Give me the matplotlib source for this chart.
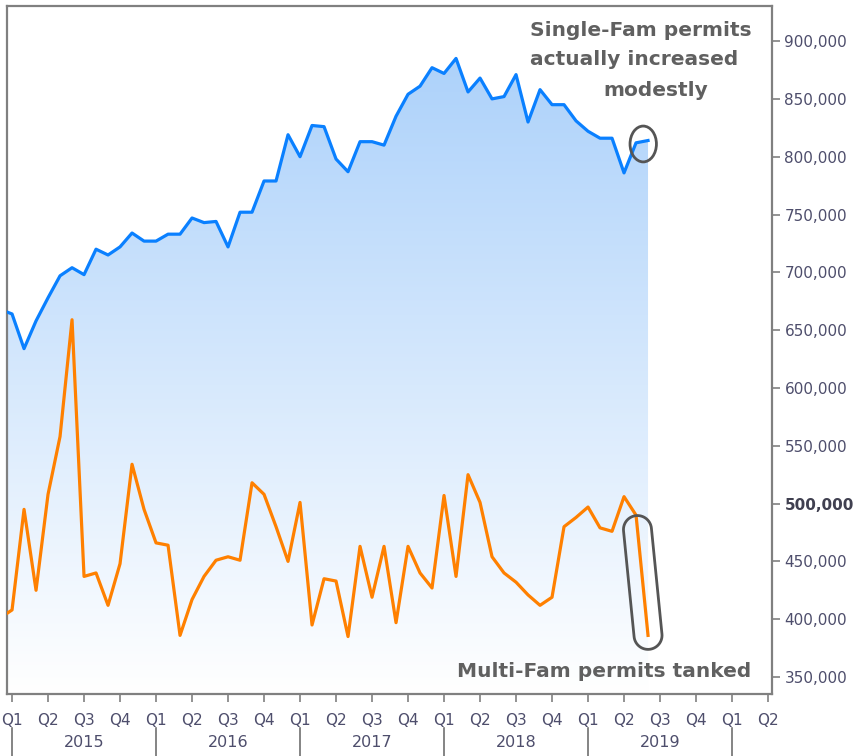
import numpy as np
import matplotlib.pyplot as plt
from matplotlib.patches import Ellipse, Polygon
from matplotlib.colors import LinearSegmentedColormap
import matplotlib.transforms as mtransforms

plt.rcParams.update({'font.family': 'DejaVu Sans', 'font.size': 11})

# monthly data, Dec 2014 .. Jun 2019 (month index: Jan 2015 = 0)
months = np.arange(-1, 54)
single_fam = [668, 664, 634, 658, 678, 697, 704, 698, 720, 715, 722, 734, 727,
              727, 733, 733, 747, 743, 744, 722, 752, 752, 779, 779, 819,
              800, 827, 826, 798, 787, 813, 813, 810, 835, 854, 861, 877,
              872, 885, 856, 868, 850, 852, 871, 830, 858, 845, 845, 831,
              822, 816, 816, 786, 812, 814]
multi_fam = [401, 408, 495, 425, 508, 558, 659, 437, 440, 412, 448, 534, 495,
             466, 464, 386, 417, 437, 451, 454, 451, 518, 508, 480, 450,
             501, 395, 435, 433, 385, 463, 419, 463, 397, 463, 440, 427,
             507, 437, 525, 501, 454, 440, 432, 421, 412, 419, 480, 488,
             497, 479, 476, 506, 490, 386]
single_fam = np.array(single_fam) * 1000
multi_fam = np.array(multi_fam) * 1000

quarter_labels = ['Q1', 'Q2', 'Q3', 'Q4'] * 5 + ['Q1', 'Q2']
years = ['2015', '2016', '2017', '2018', '2019']
yticks = np.arange(350000, 900001, 50000)

blue = '#0a80ff'
orange = '#ff8000'
note_color = '#606060'
tick_color = '#4e4e6c'

fig = plt.figure(figsize=(8.64, 7.56), dpi=100)
ax = fig.add_axes([0.0081, 0.082, 0.8854, 0.910])

xmin, xmax = -0.42, 63.33
ymin, ymax = 335300, 930300
ax.set_xlim(xmin, xmax)
ax.set_ylim(ymin, ymax)

# gradient area under the single-family line
cmap = LinearSegmentedColormap.from_list('fade', ['#ffffff', '#a6cefa'])
grad = np.linspace(0, 1, 256).reshape(-1, 1)
im = ax.imshow(grad, extent=[xmin, xmax, ymin, ymax], origin='lower',
               aspect='auto', cmap=cmap, zorder=1)
area = ax.fill_between(months, single_fam, ymin, facecolor='none', edgecolor='none')
im.set_clip_path(area.get_paths()[0], transform=ax.transData)

ax.plot(months, single_fam, color=blue, lw=2.3, zorder=3)
ax.plot(months, multi_fam, color=orange, lw=2.3, zorder=3)

# axes styling
for side in ['left', 'top', 'right', 'bottom']:
    ax.spines[side].set_color('#808080')
    ax.spines[side].set_linewidth(1.6)

ax.yaxis.tick_right()
ax.set_yticks(yticks)
ax.set_yticklabels([f'{v:,}' for v in yticks])
ax.tick_params(axis='y', colors='#808080', labelcolor=tick_color, length=6,
               width=1.2, pad=3, labelsize=11)
for lab in ax.get_yticklabels():
    if lab.get_text() == '500,000':
        lab.set_fontweight('bold')
        lab.set_color('#404050')

ax.set_xticks(np.arange(0, 64, 3))
ax.set_xticklabels(quarter_labels)
ax.tick_params(axis='x', colors='#808080', labelcolor=tick_color, length=6,
               width=1.2, pad=8, labelsize=11)

trans = mtransforms.blended_transform_factory(ax.transData, ax.transAxes)
for i, yr in enumerate(years):
    ax.text(12 * i + 6, -0.071, yr, transform=trans, ha='center', va='center',
            fontsize=11.5, color=tick_color)
for i in range(6):
    ax.plot([12 * i, 12 * i], [-0.049, -0.095], transform=trans, color='#707070',
            lw=1.2, clip_on=False)

# annotations
ax.text(0.829, 0.965, 'Single-Fam permits', transform=ax.transAxes, ha='center',
        va='center', fontsize=14.5, fontweight='bold', color=note_color)
ax.text(0.820, 0.922, 'actually increased', transform=ax.transAxes, ha='center',
        va='center', fontsize=14.5, fontweight='bold', color=note_color)
ax.text(0.848, 0.877, 'modestly', transform=ax.transAxes, ha='center',
        va='center', fontsize=14.5, fontweight='bold', color=note_color)
ax.text(0.780, 0.032, 'Multi-Fam permits tanked', transform=ax.transAxes,
        ha='center', va='center', fontsize=14.5, fontweight='bold', color=note_color)

ax.add_patch(Ellipse((52.6, 811000), width=2.2, height=31000, fill=False,
                     edgecolor='#555555', lw=2, zorder=4))

# capsule around the last multi-family drop, built in pixel space
p1 = ax.transData.transform((months[-2], multi_fam[-2]))
p2 = ax.transData.transform((months[-1], multi_fam[-1]))
d = (p2 - p1) / np.linalg.norm(p2 - p1)
c1 = p1 + 0.12 * (p2 - p1)
c2 = p2
r = 14
ang = np.arctan2(d[1], d[0])
arc2 = [c2 + r * np.array([np.cos(a), np.sin(a)])
        for a in np.linspace(ang - np.pi / 2, ang + np.pi / 2, 30)]
arc1 = [c1 + r * np.array([np.cos(a), np.sin(a)])
        for a in np.linspace(ang + np.pi / 2, ang + 3 * np.pi / 2, 30)]
pts = ax.transData.inverted().transform(np.array(arc2 + arc1))
ax.add_patch(Polygon(pts, closed=True, fill=False, edgecolor='#555555', lw=2,
                     zorder=4, clip_on=False))

fig.savefig('out.png', dpi=100)
